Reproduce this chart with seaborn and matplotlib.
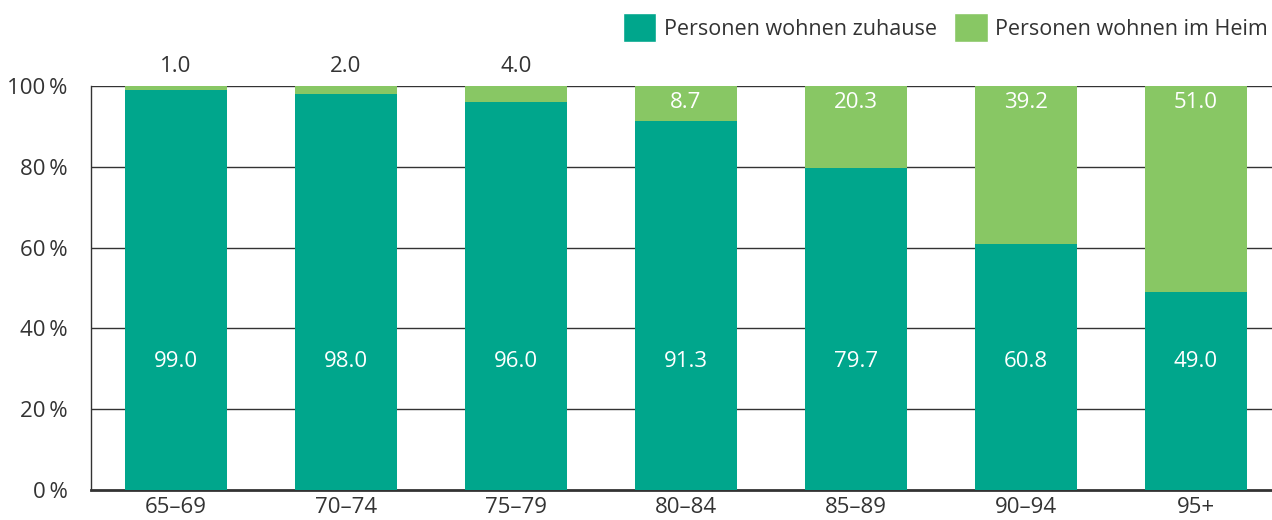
import numpy as np
import pandas as pd
import matplotlib
matplotlib.use('Agg')
import matplotlib.pyplot as plt
import seaborn as sns
from matplotlib.patches import Patch

# data
age_groups = ['65–69', '70–74', '75–79', '80–84', '85–89', '90–94', '95+']
zuhause = [99.0, 98.0, 96.0, 91.3, 79.7, 60.8, 49.0]
heim = [1.0, 2.0, 4.0, 8.7, 20.3, 39.2, 51.0]
y_ticks = [0, 20, 40, 60, 80, 100]

teal = '#00A68C'
green = '#88C764'
text_col = '#333333'
fs = 16

sns.set_style('white')
plt.rcParams['font.family'] = ['Open Sans', 'DejaVu Sans']
plt.rcParams['font.size'] = fs

df = pd.DataFrame({'age': age_groups, 'zuhause': zuhause, 'heim': heim})
df['total'] = df['zuhause'] + df['heim']

fig = plt.figure(figsize=(12.72, 5.2), dpi=100)
ax = fig.add_axes([91 / 1272, 30 / 520, 1190 / 1272, 404 / 520])

# gridlines behind bars
for t in y_ticks[1:]:
    ax.axhline(t, color=text_col, lw=1, zorder=0)

sns.barplot(data=df, x='age', y='total', color=green, width=0.6,
            saturation=1, linewidth=0, ax=ax, zorder=2)
sns.barplot(data=df, x='age', y='zuhause', color=teal, width=0.6,
            saturation=1, linewidth=0, ax=ax, zorder=3)

for i, (z, h) in enumerate(zip(zuhause, heim)):
    ax.text(i, 31.8, f'{z:.1f}', ha='center', va='center', color='white',
            fontsize=fs, zorder=5)
    if h < 6:
        ax.text(i, 104.8, f'{h:.1f}', ha='center', va='center', color=text_col,
                fontsize=fs, zorder=5)
    else:
        ax.text(i, 95.8, f'{h:.1f}', ha='center', va='center', color='white',
                fontsize=fs, zorder=5)

ax.set_xlim(-0.5, 6.5)
ax.set_ylim(0, 100)
ax.set_yticks(y_ticks)
ax.set_yticklabels([f'{t}\u2009%' for t in y_ticks], color=text_col, fontsize=fs)
ax.tick_params(axis='y', length=0, pad=17)
ax.tick_params(axis='x', length=0, pad=5, labelcolor=text_col, labelsize=fs)
ax.set_xticks(np.arange(0.5, 6.5, 1), minor=True)
ax.tick_params(axis='x', which='minor', direction='in', length=7, width=1,
               color=text_col)
ax.set_xlabel('')
ax.set_ylabel('')

for s in ['top', 'right']:
    ax.spines[s].set_visible(False)
ax.spines['left'].set_color(text_col)
ax.spines['left'].set_linewidth(1)
ax.spines['bottom'].set_color(text_col)
ax.spines['bottom'].set_linewidth(2)

handles = [Patch(facecolor=teal, label='Personen wohnen zuhause'),
           Patch(facecolor=green, label='Personen wohnen im Heim')]
leg = fig.legend(handles=handles, loc='upper right', bbox_to_anchor=(1.012, 1.012),
                 ncol=2, frameon=False, fontsize=15.5, handlelength=1.55,
                 handleheight=1.7, handletextpad=0.35, columnspacing=0.8)
for t in leg.get_texts():
    t.set_color(text_col)

fig.savefig('out.png', dpi=100)
